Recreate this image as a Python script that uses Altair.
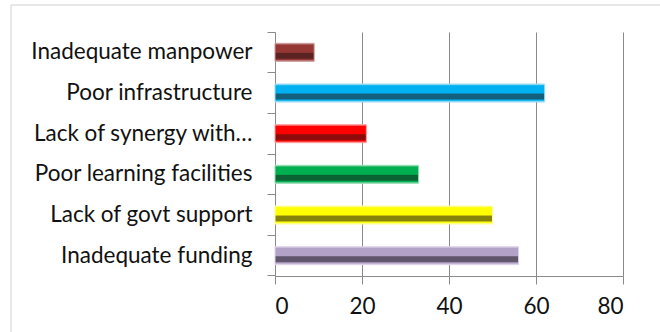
import altair as alt
import pandas as pd

categories = ["Inadequate manpower", "Poor infrastructure", "Lack of synergy with…",
              "Poor learning facilities", "Lack of govt support", "Inadequate funding"]
values = [9, 62, 21, 33, 50, 56]
bright = ["#953735", "#00B0F0", "#FF0000", "#00B050", "#FFFF00", "#B3A2C7"]
dark = ["#5a2221", "#135f7c", "#8e0b0b", "#0b6233", "#85830a", "#5f566b"]
light = ["#c99a99", "#9edcf4", "#ff9c9c", "#93dcb2", "#ffff9c", "#ddd3e8"]

df = pd.DataFrame({"cat": categories, "val": values})

FONT = "Lato"
x_enc = alt.X("val:Q", scale=alt.Scale(domain=[0, 80], nice=False),
              axis=alt.Axis(values=[0, 20, 40, 60, 80], title=None, grid=True,
                            gridColor="#8a8a8a", domainColor="#8a8a8a", tickColor="#8a8a8a",
                            tickSize=8, labelFontSize=22.5, labelFont=FONT, labelColor="#111111",
                            labelPadding=11))
y_enc = alt.Y("cat:N", scale=alt.Scale(domain=categories, paddingInner=0, paddingOuter=0),
              axis=alt.Axis(title=None, bandPosition=1, tickExtra=True,
                            domainColor="#8a8a8a", tickColor="#8a8a8a", tickSize=8,
                            labelFontSize=22.5, labelFont=FONT, labelColor="#111111",
                            labelPadding=15, labelLimit=400))

layers = []
for c, b, d, l in zip(categories, bright, dark, light):
    grad = alt.Gradient(gradient="linear", x1=0, x2=0, y1=0, y2=1, stops=[
        alt.GradientStop(offset=0, color=l),
        alt.GradientStop(offset=0.1, color=b),
        alt.GradientStop(offset=0.5, color=b),
        alt.GradientStop(offset=0.56, color=d),
        alt.GradientStop(offset=0.82, color=d),
        alt.GradientStop(offset=0.9, color=b),
        alt.GradientStop(offset=1, color=l),
    ])
    layers.append(
        alt.Chart(df).transform_filter(alt.datum.cat == c)
        .mark_bar(size=18, color=grad, stroke=l, strokeWidth=1)
        .encode(x=x_enc, y=y_enc)
    )

frame = pd.DataFrame({"k": [0]})
top_line = alt.Chart(frame).mark_rule(color="#e0e0e0", strokeWidth=1.5).encode(
    x=alt.value(-264), x2=alt.value(400), y=alt.value(-27))
left_line = alt.Chart(frame).mark_rule(color="#e0e0e0", strokeWidth=1.5).encode(
    x=alt.value(-264), y=alt.value(-27), y2=alt.value(320))

chart = alt.layer(*layers, top_line, left_line).properties(
    width=348, height=244,
    autosize=alt.AutoSizeParams(type="none"),
    padding={"left": 275, "top": 32, "right": 37, "bottom": 56},
    background="white",
).configure_view(stroke=None)

chart.save("out.html", embed_options={"renderer": "svg", "actions": False})
